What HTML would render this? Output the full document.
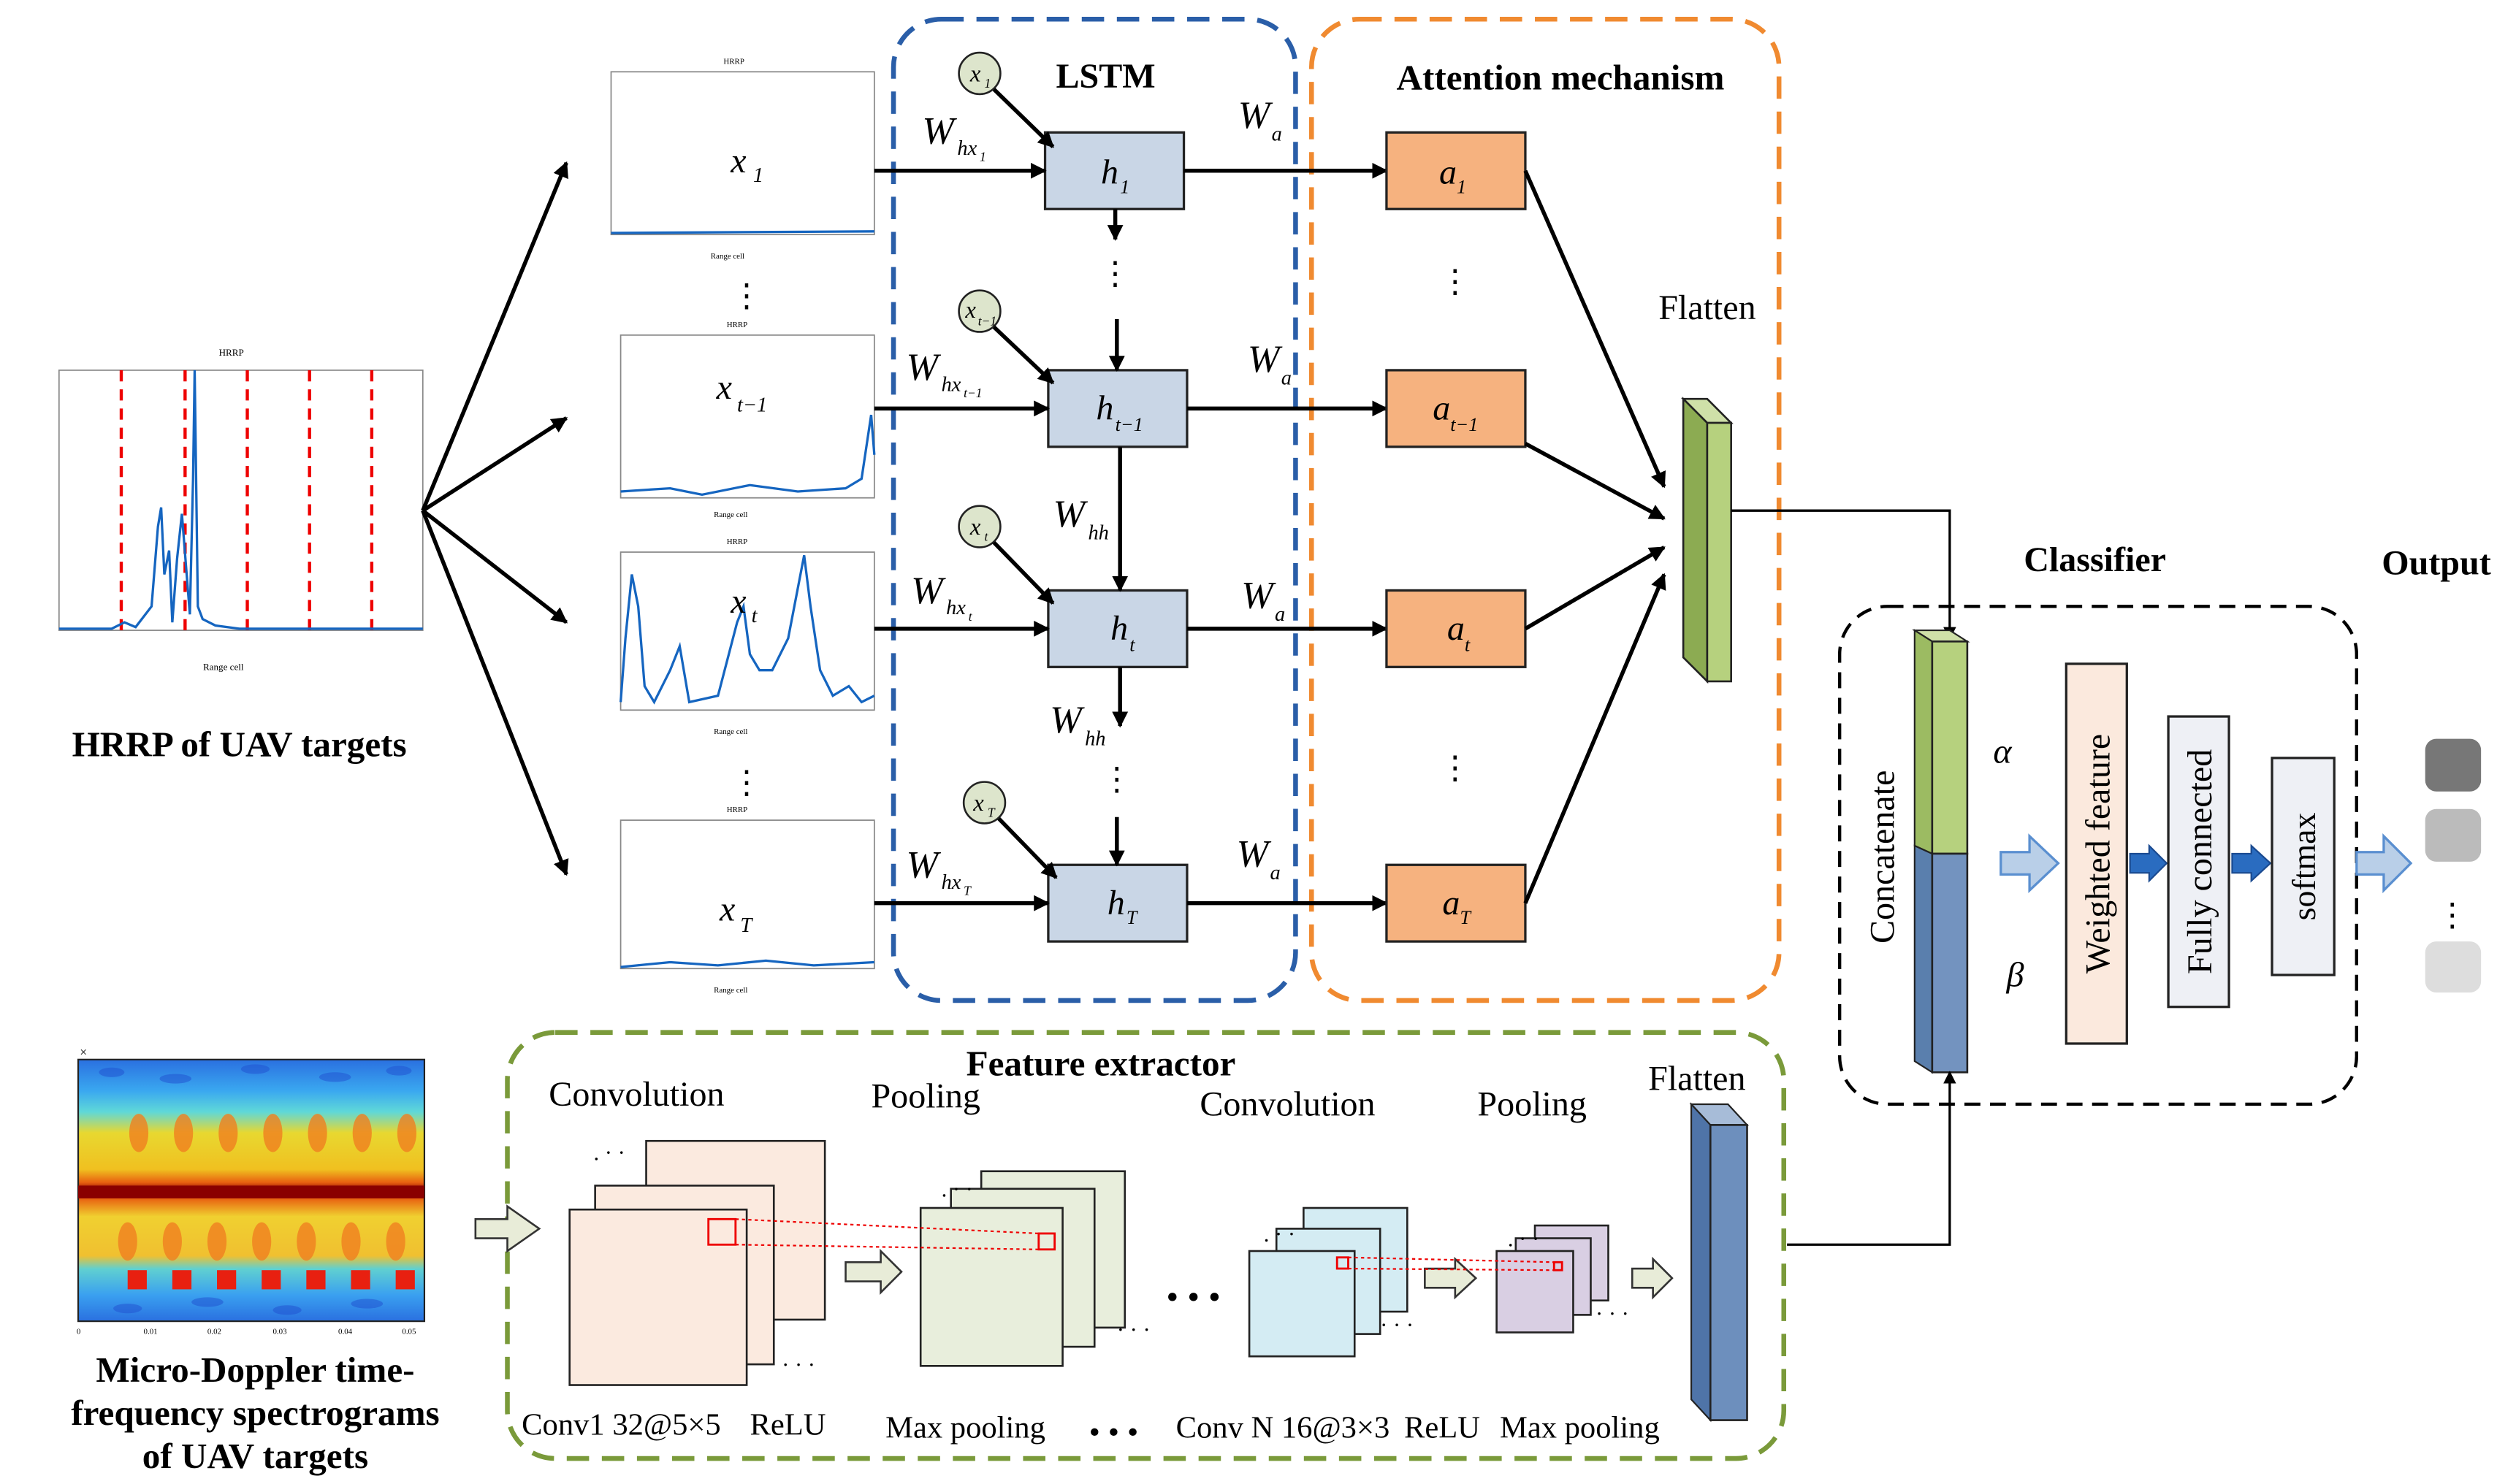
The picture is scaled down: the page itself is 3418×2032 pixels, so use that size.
<!DOCTYPE html>
<html><head><meta charset="utf-8"><style>
html,body{margin:0;padding:0;background:#fff;}
svg{display:block;}
text{font-family:"Liberation Serif",serif;fill:#000;}
.b{font-weight:bold;}
</style></head><body>
<svg width="3418" height="2032" viewBox="0 0 1565 930" preserveAspectRatio="none" xmlns="http://www.w3.org/2000/svg">
<defs>
<marker id="ar" markerWidth="10" markerHeight="10" refX="9" refY="5" orient="auto" markerUnits="userSpaceOnUse"><path d="M0,0 L10,5 L0,10 z" fill="#000"/></marker>
<marker id="ars" markerWidth="8" markerHeight="8" refX="7" refY="4" orient="auto" markerUnits="userSpaceOnUse"><path d="M0,0 L8,4 L0,8 z" fill="#000"/></marker>
<linearGradient id="spec" x1="0" y1="0" x2="0" y2="1">
<stop offset="0" stop-color="#2a70e0"/><stop offset="0.12" stop-color="#3aa8f0"/><stop offset="0.2" stop-color="#5fd8d8"/>
<stop offset="0.28" stop-color="#e8d830"/><stop offset="0.42" stop-color="#f0c020"/><stop offset="0.47" stop-color="#e86010"/>
<stop offset="0.5" stop-color="#8a0000"/><stop offset="0.53" stop-color="#e86010"/><stop offset="0.6" stop-color="#f0d030"/>
<stop offset="0.75" stop-color="#f0c030"/><stop offset="0.8" stop-color="#60d0d0"/><stop offset="0.9" stop-color="#3aa0f0"/><stop offset="1" stop-color="#2a70e0"/>
</linearGradient>
</defs>

<text x="145" y="223" font-size="6" text-anchor="middle">HRRP</text>
<rect x="37" y="232" width="228" height="163" fill="#fff" stroke="#888" stroke-width="0.8"/>
<g stroke="#e00" stroke-width="2" stroke-dasharray="7,5">
<line x1="76" y1="232" x2="76" y2="395"/><line x1="116" y1="232" x2="116" y2="395"/><line x1="155" y1="232" x2="155" y2="395"/><line x1="194" y1="232" x2="194" y2="395"/><line x1="233" y1="232" x2="233" y2="395"/></g>
<polyline fill="none" stroke="#1565c0" stroke-width="1.5" points="37,394 70,394 78,390 85,393 95,380 99,330 101,318 103,360 106,345 108,390 111,350 114,322 117,360 119,385 121,300 122,232 124,380 127,388 135,392 150,394 265,394"/>
<text x="140" y="420" font-size="6" text-anchor="middle">Range cell</text>
<text x="150" y="474" font-size="22.5" class="b" text-anchor="middle">HRRP of UAV targets</text>

<g stroke="#000" stroke-width="2.5" marker-end="url(#ar)">
<line x1="265" y1="320" x2="355" y2="102"/><line x1="265" y1="320" x2="355" y2="262"/><line x1="265" y1="320" x2="355" y2="390"/><line x1="265" y1="320" x2="355" y2="548"/></g>

<g font-size="5" text-anchor="middle">
<text x="460" y="40">HRRP</text><text x="462" y="205">HRRP</text><text x="462" y="341">HRRP</text><text x="462" y="509">HRRP</text>
<text x="456" y="162">Range cell</text><text x="458" y="324">Range cell</text><text x="458" y="460">Range cell</text><text x="458" y="622">Range cell</text></g>
<g fill="#fff" stroke="#888" stroke-width="0.8">
<rect x="383" y="45" width="165" height="102"/><rect x="389" y="210" width="159" height="102"/><rect x="389" y="346" width="159" height="99"/><rect x="389" y="514" width="159" height="93"/></g>
<g fill="none" stroke="#1565c0" stroke-width="1.5">
<polyline points="383,146 548,145"/>
<polyline points="389,308 420,306 440,310 470,304 500,308 530,306 540,300 546,260 548,285"/>
<polyline points="389,440 392,400 396,360 400,380 404,430 410,440 420,420 426,405 432,440 450,436 462,390 466,380 470,410 476,420 484,420 494,400 504,348 508,380 514,420 522,436 532,430 540,440 548,436"/>
<polyline points="389,606 420,603 450,605 480,602 510,605 548,603"/></g>
<g font-size="22" font-style="italic">
<text x="458" y="108">x</text><text x="472" y="114" font-size="13">1</text>
<text x="449" y="250">x</text><text x="462" y="258" font-size="13">t−1</text>
<text x="458" y="384">x</text><text x="471" y="390" font-size="13">t</text>
<text x="451" y="577">x</text><text x="464" y="584" font-size="13">T</text></g>
<text x="468" y="192" font-size="20" text-anchor="middle">⋮</text>
<text x="468" y="497" font-size="20" text-anchor="middle">⋮</text>

<rect x="560" y="12" width="252" height="615" rx="30" fill="none" stroke="#2a5ea8" stroke-width="3" stroke-dasharray="14,8"/>
<rect x="822" y="12" width="293" height="615" rx="30" fill="none" stroke="#f08a30" stroke-width="3" stroke-dasharray="14,8"/>
<text x="693" y="55" font-size="22" class="b" text-anchor="middle">LSTM</text>
<text x="978" y="56" font-size="22.5" class="b" text-anchor="middle">Attention mechanism</text>

<g fill="#c9d6e6" stroke="#222" stroke-width="1.5">
<rect x="655" y="83" width="87" height="48"/><rect x="657" y="232" width="87" height="48"/><rect x="657" y="370" width="87" height="48"/><rect x="657" y="542" width="87" height="48"/></g>
<g font-size="22" font-style="italic">
<text x="690" y="115">h</text><text x="702" y="121" font-size="12">1</text>
<text x="687" y="263">h</text><text x="699" y="270" font-size="12">t−1</text>
<text x="696" y="401">h</text><text x="708" y="408" font-size="12">t</text>
<text x="694" y="573">h</text><text x="706" y="579" font-size="12">T</text></g>

<g fill="#dde5cc" stroke="#222" stroke-width="1.2">
<circle cx="614" cy="46" r="13"/><circle cx="614" cy="195" r="13"/><circle cx="614" cy="330" r="13"/><circle cx="617" cy="503" r="13"/></g>
<g font-size="15" font-style="italic">
<text x="608" y="51">x</text><text x="617" y="55" font-size="8">1</text>
<text x="605" y="199">x</text><text x="613" y="204" font-size="8">t−1</text>
<text x="608" y="335">x</text><text x="617" y="339" font-size="8">t</text>
<text x="610" y="508">x</text><text x="619" y="512" font-size="8">T</text></g>

<g stroke="#000" stroke-width="2.5" marker-end="url(#ar)">
<line x1="548" y1="107" x2="655" y2="107"/><line x1="548" y1="256" x2="657" y2="256"/><line x1="548" y1="394" x2="657" y2="394"/><line x1="548" y1="566" x2="657" y2="566"/>
<line x1="623" y1="56" x2="660" y2="92"/><line x1="623" y1="205" x2="660" y2="240"/><line x1="623" y1="340" x2="660" y2="378"/><line x1="626" y1="513" x2="662" y2="550"/>
<line x1="699" y1="131" x2="699" y2="150"/><line x1="700" y1="200" x2="700" y2="232"/>
<line x1="702" y1="280" x2="702" y2="370"/><line x1="702" y1="418" x2="702" y2="455"/><line x1="700" y1="512" x2="700" y2="542"/>
<line x1="742" y1="107" x2="869" y2="107"/><line x1="744" y1="256" x2="869" y2="256"/><line x1="744" y1="394" x2="869" y2="394"/><line x1="744" y1="566" x2="869" y2="566"/></g>
<g font-size="20" text-anchor="middle"><text x="699" y="178">⋮</text><text x="700" y="495">⋮</text><text x="912" y="183">⋮</text><text x="912" y="488">⋮</text></g>

<g font-size="24" font-style="italic">
<text x="578" y="90">W</text><text x="600" y="97" font-size="13">hx</text><text x="614" y="101" font-size="8">1</text>
<text x="568" y="238">W</text><text x="590" y="245" font-size="13">hx</text><text x="604" y="249" font-size="8">t−1</text>
<text x="571" y="378">W</text><text x="593" y="385" font-size="13">hx</text><text x="607" y="389" font-size="8">t</text>
<text x="568" y="550">W</text><text x="590" y="557" font-size="13">hx</text><text x="604" y="561" font-size="8">T</text>
<text x="660" y="330">W</text><text x="682" y="338" font-size="13">hh</text>
<text x="658" y="459">W</text><text x="680" y="467" font-size="13">hh</text>
<text x="776" y="80">W</text><text x="797" y="88" font-size="13">a</text>
<text x="782" y="233">W</text><text x="803" y="241" font-size="13">a</text>
<text x="778" y="381">W</text><text x="799" y="389" font-size="13">a</text>
<text x="775" y="543">W</text><text x="796" y="551" font-size="13">a</text></g>

<g fill="#f6b27f" stroke="#222" stroke-width="1.5">
<rect x="869" y="83" width="87" height="48"/><rect x="869" y="232" width="87" height="48"/><rect x="869" y="370" width="87" height="48"/><rect x="869" y="542" width="87" height="48"/></g>
<g font-size="22" font-style="italic">
<text x="902" y="115">a</text><text x="913" y="121" font-size="12">1</text>
<text x="898" y="263">a</text><text x="909" y="270" font-size="12">t−1</text>
<text x="907" y="401">a</text><text x="918" y="408" font-size="12">t</text>
<text x="904" y="573">a</text><text x="915" y="579" font-size="12">T</text></g>
<g stroke="#000" stroke-width="2.5" marker-end="url(#ar)">
<line x1="956" y1="107" x2="1043" y2="305"/><line x1="956" y1="278" x2="1043" y2="325"/><line x1="956" y1="394" x2="1043" y2="343"/><line x1="956" y1="566" x2="1043" y2="360"/></g>

<text x="1070" y="200" font-size="22" text-anchor="middle">Flatten</text>
<polygon points="1055,250 1070,265 1085,265 1070,250" fill="#cfe0a8" stroke="#222" stroke-width="1.2"/>
<polygon points="1055,250 1070,265 1070,427 1055,412" fill="#8cab52" stroke="#222" stroke-width="1.2"/>
<rect x="1070" y="265" width="15" height="162" fill="#b6d17e" stroke="#222" stroke-width="1.2"/>
<polyline points="1085,320 1222,320 1222,400" fill="none" stroke="#000" stroke-width="1.5" marker-end="url(#ars)"/>

<text x="1313" y="358" font-size="22" class="b" text-anchor="middle">Classifier</text>
<text x="1527" y="360" font-size="22" class="b" text-anchor="middle">Output</text>
<rect x="1153" y="380" width="324" height="312" rx="30" fill="none" stroke="#000" stroke-width="2" stroke-dasharray="10,6"/>
<polygon points="1200,395 1211,402 1233,402 1222,395" fill="#cfe0a8" stroke="#222" stroke-width="1"/>
<polygon points="1200,395 1211,402 1211,535 1200,530" fill="#9cbb62" stroke="#222" stroke-width="1"/>
<polygon points="1200,530 1211,535 1211,672 1200,665" fill="#5a7fad" stroke="#222" stroke-width="1"/>
<rect x="1211" y="402" width="22" height="133" fill="#b6d17e" stroke="#222" stroke-width="1.2"/>
<rect x="1211" y="535" width="22" height="137" fill="#7393bf" stroke="#222" stroke-width="1.2"/>
<text transform="translate(1187,537) rotate(-90)" font-size="22" text-anchor="middle">Concatenate</text>
<text x="1255" y="478" font-size="22" font-style="italic" text-anchor="middle">α</text>
<text x="1263" y="618" font-size="22" font-style="italic" text-anchor="middle">β</text>
<g fill="#b9cfe8" stroke="#5a8fd0" stroke-width="1.5">
<polygon points="1254,534 1272,534 1272,524 1290,541 1272,558 1272,548 1254,548"/>
<polygon points="1477,534 1494,534 1494,524 1511,541 1494,558 1494,548 1477,548"/></g>
<g fill="#2a6cc0" stroke="#1a4a90" stroke-width="1">
<polygon points="1335,535 1347,535 1347,530 1358,541 1347,552 1347,547 1335,547"/>
<polygon points="1399,535 1411,535 1411,530 1423,541 1411,552 1411,547 1399,547"/></g>
<rect x="1295" y="416" width="38" height="238" fill="#fbe9dd" stroke="#222" stroke-width="1.5"/>
<rect x="1359" y="449" width="38" height="182" fill="#eef0f5" stroke="#222" stroke-width="1.5"/>
<rect x="1424" y="475" width="39" height="136" fill="#eef0f5" stroke="#222" stroke-width="1.5"/>
<text transform="translate(1322,535) rotate(-90)" font-size="22" text-anchor="middle">Weighted feature</text>
<text transform="translate(1386,540) rotate(-90)" font-size="22" text-anchor="middle">Fully connected</text>
<text transform="translate(1451,543) rotate(-90)" font-size="21" text-anchor="middle">softmax</text>
<rect x="1520" y="463" width="35" height="33" rx="7" fill="#777"/>
<rect x="1520" y="507" width="35" height="33" rx="7" fill="#bbb"/>
<rect x="1520" y="590" width="35" height="32" rx="7" fill="#ddd"/>
<text x="1537" y="580" font-size="20" text-anchor="middle">⋮</text>

<rect x="318" y="647" width="800" height="267" rx="30" fill="none" stroke="#7a9a3a" stroke-width="3" stroke-dasharray="14,8"/>
<text x="690" y="674" font-size="22.5" class="b" text-anchor="middle">Feature extractor</text>

<rect x="49" y="664" width="217" height="164" fill="url(#spec)" stroke="#222" stroke-width="1"/>
<g fill="#2050d0" opacity="0.5">
<ellipse cx="70" cy="672" rx="8" ry="3"/><ellipse cx="110" cy="676" rx="10" ry="3"/><ellipse cx="160" cy="670" rx="9" ry="3"/><ellipse cx="210" cy="675" rx="10" ry="3"/><ellipse cx="250" cy="671" rx="8" ry="3"/>
<ellipse cx="80" cy="820" rx="9" ry="3"/><ellipse cx="130" cy="816" rx="10" ry="3"/><ellipse cx="180" cy="821" rx="9" ry="3"/><ellipse cx="230" cy="817" rx="10" ry="3"/></g>
<g fill="#f08020" opacity="0.8">
<ellipse cx="87" cy="710" rx="6" ry="12"/><ellipse cx="115" cy="710" rx="6" ry="12"/><ellipse cx="143" cy="710" rx="6" ry="12"/><ellipse cx="171" cy="710" rx="6" ry="12"/><ellipse cx="199" cy="710" rx="6" ry="12"/><ellipse cx="227" cy="710" rx="6" ry="12"/><ellipse cx="255" cy="710" rx="6" ry="12"/>
<ellipse cx="80" cy="778" rx="6" ry="12"/><ellipse cx="108" cy="778" rx="6" ry="12"/><ellipse cx="136" cy="778" rx="6" ry="12"/><ellipse cx="164" cy="778" rx="6" ry="12"/><ellipse cx="192" cy="778" rx="6" ry="12"/><ellipse cx="220" cy="778" rx="6" ry="12"/><ellipse cx="248" cy="778" rx="6" ry="12"/></g>
<g fill="#e82010"><rect x="80" y="796" width="12" height="12"/><rect x="108" y="796" width="12" height="12"/><rect x="136" y="796" width="12" height="12"/><rect x="164" y="796" width="12" height="12"/><rect x="192" y="796" width="12" height="12"/><rect x="220" y="796" width="12" height="12"/><rect x="248" y="796" width="12" height="12"/></g>
<rect x="49" y="743" width="217" height="8" fill="#8a0000"/>
<text x="50" y="662" font-size="8">×</text>
<g font-size="5"><text x="48" y="836">0</text><text x="90" y="836">0.01</text><text x="130" y="836">0.02</text><text x="171" y="836">0.03</text><text x="212" y="836">0.04</text><text x="252" y="836">0.05</text></g>
<g font-size="22.5" class="b" text-anchor="middle"><text x="160" y="866">Micro-Doppler time-</text><text x="160" y="893">frequency spectrograms</text><text x="160" y="920">of UAV targets</text></g>

<g fill="#e8ecd8" stroke="#333" stroke-width="1.2">
<polygon points="298,764 318,764 318,756 338,770 318,784 318,776 298,776"/>
<polygon points="530,791 552,791 552,784 565,797 552,810 552,803 530,803"/>
<polygon points="893,795 912,795 912,789 925,801 912,813 912,807 893,807"/>
<polygon points="1023,795 1036,795 1036,789 1048,801 1036,813 1036,807 1023,807"/></g>

<g font-size="22">
<text x="344" y="693">Convolution</text><text x="546" y="694">Pooling</text><text x="752" y="699">Convolution</text><text x="926" y="699">Pooling</text><text x="1033" y="683">Flatten</text></g>

<g stroke="#222" stroke-width="1.2">
<rect x="405" y="715" width="112" height="112" fill="#fbeadf"/>
<rect x="373" y="743" width="112" height="112" fill="#fbeadf"/>
<rect x="357" y="758" width="111" height="110" fill="#fbeadf"/>
<rect x="615" y="734" width="90" height="98" fill="#e8eedc"/>
<rect x="596" y="745" width="90" height="99" fill="#e8eedc"/>
<rect x="577" y="757" width="89" height="99" fill="#e8eedc"/>
<rect x="817" y="757" width="65" height="65" fill="#d4ecf3"/>
<rect x="800" y="770" width="65" height="66" fill="#d4ecf3"/>
<rect x="783" y="784" width="66" height="66" fill="#d4ecf3"/>
<rect x="962" y="768" width="46" height="47" fill="#d9cfe3"/>
<rect x="950" y="776" width="47" height="48" fill="#d9cfe3"/>
<rect x="938" y="784" width="48" height="51" fill="#d9cfe3"/></g>
<g fill="none" stroke="#e00" stroke-width="1.3">
<rect x="444" y="764" width="17" height="16"/><rect x="651" y="773" width="10" height="10"/>
<rect x="838" y="788" width="7" height="7"/><rect x="974" y="791" width="5" height="5"/></g>
<g stroke="#e00" stroke-width="1" stroke-dasharray="2,2">
<line x1="461" y1="764" x2="651" y2="773"/><line x1="461" y1="780" x2="651" y2="783"/>
<line x1="845" y1="788" x2="974" y2="791"/><line x1="845" y1="795" x2="974" y2="796"/></g>
<g font-size="14"><text x="372" y="727">. · ·</text><text x="590" y="750">. · ·</text><text x="792" y="778">. · ·</text><text x="945" y="781">. · ·</text>
<text x="490" y="860">· · ·</text><text x="700" y="838">· · ·</text><text x="865" y="835">· · ·</text><text x="1000" y="828">· · ·</text></g>
<text x="748" y="820" font-size="22" text-anchor="middle">• • •</text>

<polygon points="1060,692 1072,705 1095,705 1083,692" fill="#a7bcd8" stroke="#222" stroke-width="1"/>
<polygon points="1060,692 1072,705 1072,890 1060,877" fill="#4f74a8" stroke="#222" stroke-width="1"/>
<rect x="1072" y="705" width="23" height="185" fill="#6d8fbd" stroke="#222" stroke-width="1.2"/>
<polyline points="1120,780 1222,780 1222,672" fill="none" stroke="#000" stroke-width="1.5" marker-end="url(#ars)"/>

<g font-size="19.5">
<text x="327" y="899">Conv1 32@5×5</text><text x="470" y="899">ReLU</text><text x="555" y="901">Max pooling</text>
<text x="737" y="901">Conv N 16@3×3</text><text x="880" y="901">ReLU</text><text x="940" y="901">Max pooling</text></g>
<text x="698" y="904" font-size="20" text-anchor="middle">• • •</text>
</svg>
</body></html>
